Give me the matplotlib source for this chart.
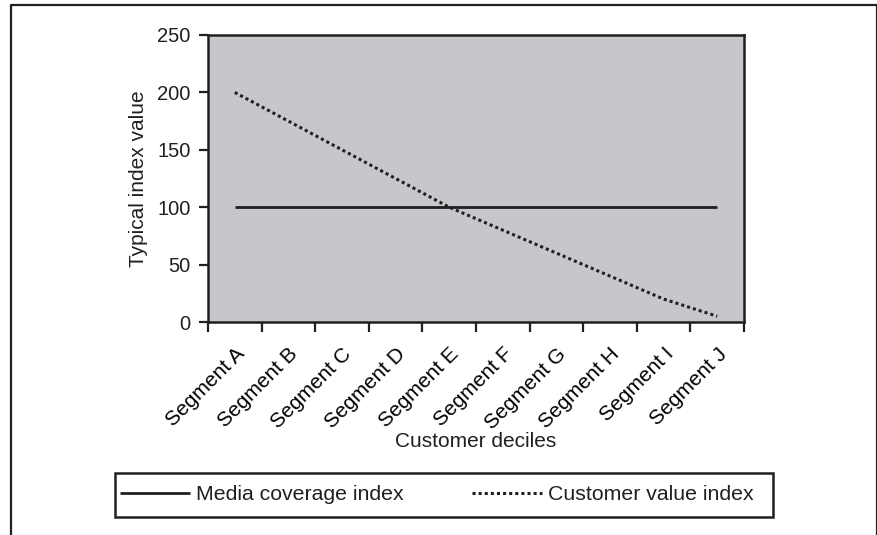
import matplotlib
matplotlib.use("Agg")
import matplotlib.pyplot as plt
from matplotlib.patches import Rectangle
from matplotlib.lines import Line2D

plt.rcParams['font.family'] = ['Liberation Sans', 'DejaVu Sans']

segments = ["Segment A", "Segment B", "Segment C", "Segment D", "Segment E",
            "Segment F", "Segment G", "Segment H", "Segment I", "Segment J"]
media_coverage = [100, 100, 100, 100, 100, 100, 100, 100, 100, 100]
customer_value = [200, 175, 150, 125, 100, 80, 60, 40, 20, 5]
y_ticks = [0, 50, 100, 150, 200, 250]

INK = "#231f20"
PANEL = "#c6c7cb"

W, H = 878, 535
fig = plt.figure(figsize=(W / 100, H / 100), dpi=100)
ax = fig.add_axes([208 / W, 1 - 322 / H, (744 - 208) / W, (322 - 35) / H])
ax.set_facecolor(PANEL)

x = list(range(len(segments)))
ax.plot(x, media_coverage, color=INK, lw=2.0, solid_capstyle='butt',
        label="Media coverage index")
ax.plot(x, customer_value, color=INK, lw=2.2, linestyle=(0, (1, 1.0)),
        label="Customer value index")

ax.set_xlim(-0.5, len(segments) - 0.5)
ax.set_ylim(0, 250)
ax.set_yticks(y_ticks)

# category boundaries carry the tick marks, centres carry the labels
ax.set_xticks([i - 0.5 for i in range(len(segments) + 1)])
ax.set_xticklabels([])
ax.set_xticks(x, minor=True)
ax.set_xticklabels(segments, minor=True, rotation=45, ha='right',
                   rotation_mode='anchor', fontsize=15)
ax.tick_params(axis='x', which='minor', length=0, pad=16)
ax.tick_params(axis='x', which='major', length=7, width=1.6, color=INK,
               direction='out')
ax.tick_params(axis='y', length=6.5, width=1.6, color=INK, pad=6,
               labelsize=14.5, labelcolor=INK)
ax.tick_params(axis='x', labelcolor=INK)

for s in ax.spines.values():
    s.set_linewidth(1.8)
    s.set_color(INK)

ax.set_xlabel("Customer deciles", fontsize=15, color=INK)
ax.xaxis.set_label_coords(0.5, -0.385)
ax.set_ylabel("Typical index value", fontsize=15, color=INK)
ax.yaxis.set_label_coords(-0.112, 0.5)

# legend with a square box
fig.legend(loc='center', bbox_to_anchor=(437 / W, 1 - 495 / H), ncol=2,
           frameon=False, fontsize=15.3, handlelength=3.3,
           handletextpad=0.3, columnspacing=3.2, labelcolor=INK)
fig.patches.append(Rectangle((115 / W, 1 - 517 / H), (773 - 115) / W, 44 / H,
                             transform=fig.transFigure, fill=False,
                             lw=1.8, edgecolor=INK))

# open-bottomed outer frame
fig.lines.append(Line2D([11 / W, 11 / W, 877 / W, 877 / W],
                        [0, 1 - 5 / H, 1 - 5 / H, 0],
                        transform=fig.transFigure, color=INK, lw=1.6))

fig.savefig("out.png", dpi=100)
